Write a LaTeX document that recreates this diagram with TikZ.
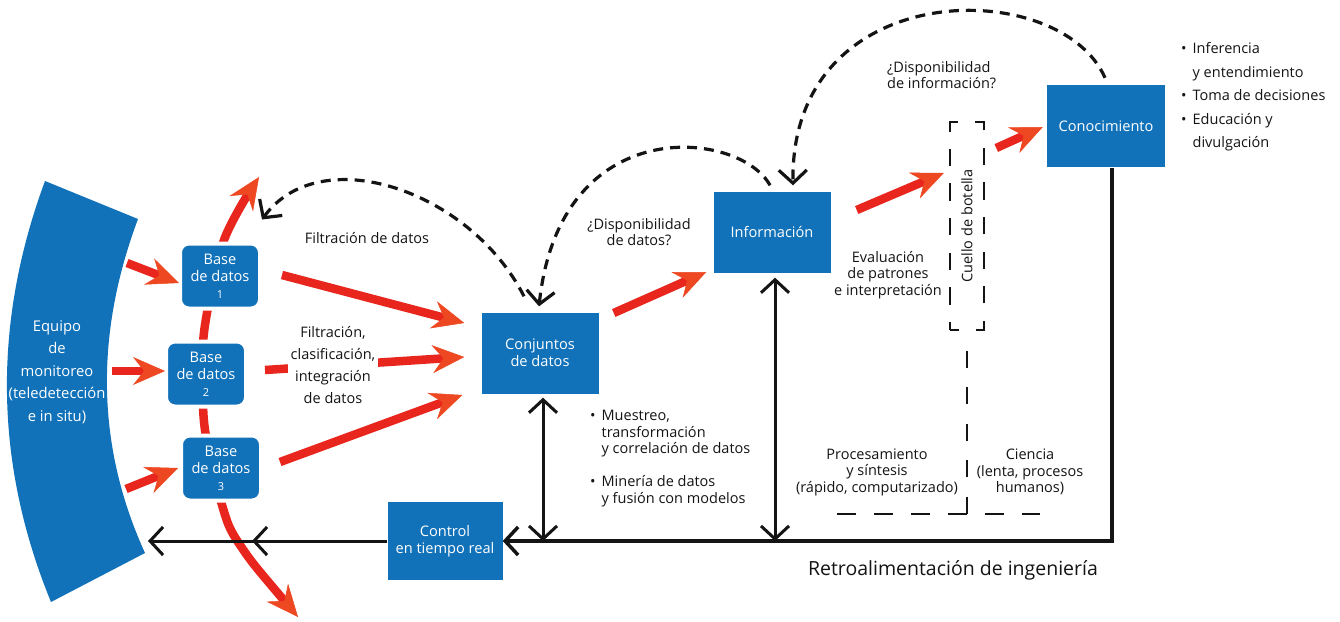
\documentclass[tikz,border=0pt]{standalone}
\usepackage{fontspec}
\setmainfont{Open Sans}
\usetikzlibrary{arrows.meta,calc}
\definecolor{blueC}{RGB}{17,114,186}
\definecolor{redL}{RGB}{232,38,30}
\definecolor{redT}{RGB}{238,72,34}
\definecolor{inkC}{RGB}{20,20,20}
\newcommand\myfs[2]{\fontsize{#1}{#2}\selectfont}
\begin{document}
\begin{tikzpicture}[x=1pt,y=-1pt,
  bluebox/.style={fill=blueC,text=white,align=center,inner sep=0pt,font=\myfs{14.6}{17}},
  basebox/.style={bluebox,rounded corners=9pt,draw=white,line width=4pt,minimum width=80pt,minimum height=65pt},
  sqbox/.style={bluebox,minimum width=117pt,minimum height=81pt},
  txt/.style={align=center,inner sep=0pt,font=\myfs{14.5}{16.5},text=inkC},
  redarrow/.style={draw=redL,line width=8.5pt,-{Stealth[length=32pt,width=28pt,inset=11pt,color=redT,line width=0.5pt]}},
  redcurve/.style={draw=redL,line width=8.5pt,{Stealth[length=32pt,width=28pt,inset=11pt,color=redT,line width=0.5pt]}-{Stealth[length=32pt,width=28pt,inset=11pt,color=redT,line width=0.5pt]}},
  blackarrow/.style={draw=inkC,line width=3pt,-{Straight Barb[length=13pt,width=28pt]}},
  blackdouble/.style={draw=inkC,line width=3pt,{Straight Barb[length=13pt,width=28pt]}-{Straight Barb[length=13pt,width=28pt]}},
  dashcurve/.style={draw=inkC,line width=3.2pt,dash pattern=on 10pt off 7pt,-{Straight Barb[length=13pt,width=28pt]}},
]
\useasboundingbox (0,0) rectangle (1340,621);
\fill[white] (0,0) rectangle (1340,621);

% Equipo de monitoreo
\fill[blueC] (45,181) .. controls (-7.7,323.3) and (-5.7,463.7) .. (51,602) -- (145,553) .. controls (96.7,447) and (94.3,335.7) .. (138,219) -- cycle;
\node[font=\myfs{14.8}{22.5},text=white,align=center,inner sep=0pt] (equipo) at (57,372) {Equipo\\de\\monitoreo\\(teledetección\\e in situ)};
\coordinate (e1) at (127,263);
\coordinate (e2) at (112,371);
\coordinate (e3) at (126,489);
\coordinate (e4) at (148,541);

% big red curve behind base boxes
\draw[redcurve] plot[smooth,tension=0.55] coordinates {(298,617) (240,545) (222,505) (205,430) (203,374) (205,325) (224,240) (259,177)};

% base boxes
\node[basebox] (b1) at (220,276) {Base\\de datos\\{\myfs{11}{14}1}};
\node[basebox] (b2) at (206,374) {Base\\de datos\\{\myfs{11}{14}2}};
\node[basebox] (b3) at (221,468) {Base\\de datos\\{\myfs{11}{14}3}};

% main boxes
\node[sqbox] (conj) at (540,353) {Conjuntos\\de datos};
\node[sqbox] (info) at (772,232) {Información};
\node[sqbox,minimum width=118pt,minimum height=82pt] (conoc) at (1106,126) {Conocimiento};
\node[sqbox,minimum width=115pt,minimum height=78pt] (control) at (445,541) {Control\\en tiempo real};

% bottleneck box
\node[draw=inkC,line width=2.5pt,dash pattern=on 17.3pt off 17.3pt,dash phase=8.6pt,minimum width=34pt,minimum height=208pt,inner sep=0pt] (cuello) at (967,226) {};
\node[txt,rotate=90] (cuellotxt) at (cuello.center) {Cuello de botella};
\coordinate (cb) at (967,514);
\coordinate (hl) at (837,514);
\coordinate (hr) at (1040,514);
\draw[draw=inkC,line width=2.5pt,dash pattern=on 17pt off 19.5pt,dash phase=17pt] (cuello.south) -- (cb);
\draw[draw=inkC,line width=2.5pt,dash pattern=on 18.5pt off 18.5pt] (hl) -- (hr);

% red arrows
\draw[redarrow] (e1) -- ($(b1.west)+(1,7)$);
\draw[redarrow] (e2) -- ($(b2.west)+(1,-3)$);
\draw[redarrow] (e3) -- ($(b3.west)+(-1,0)$);
\draw[redarrow] ($(b1.east)+(20,-1)$) -- ($(conj.west)+(-17,-30)$);
\draw[redarrow] ($(b2.east)+(17,-4)$) -- ($(conj.west)+(-17,4)$);
\draw[redarrow] ($(b3.east)+(17,-6)$) -- ($(conj.west)+(-19,42)$);
\draw[redarrow] ($(conj.east)+(15,-40)$) -- ($(info.west)+(-7,40)$);
\draw[redarrow] ($(info.east)+(26,-22)$) -- ($(cuello.west)+(-5,-53)$);
\draw[redarrow] ($(cuello.east)+(11,-78)$) -- ($(conoc.west)+(-4,1)$);

% label over the middle red arrow
\node[txt,font=\myfs{14.5}{22},fill=white,inner sep=3pt] (filt2) at (333,365) {Filtración,\\clasificación,\\integración\\de datos};

% dashed feedback curves
\draw[dashcurve] ($(conoc.north)+(-1,-7)$) .. controls (1060,-25) and (790,-25) .. ($(info.north)+(21,-6)$);
\draw[dashcurve] ($(info.north)+(-2,-6)$) .. controls (740,130) and (560,110) .. ($(conj.north)+(-1,-6)$);
\draw[dashcurve] ($(conj.north)+(-16,-16)$) .. controls (470,190) and (320,140) .. ($(b1.north east)+(0,-22)$);

% black feedback lines
\coordinate (midc) at (252,541);
\coordinate (fb1) at (543,541);
\coordinate (fb2) at (775,541);
\draw[blackarrow,line width=3.5pt] ($(conoc.south)+(6,1)$) |- (control.east);
\draw[blackarrow] (control.west) -- (e4);
\draw[blackarrow] (control.west) -- (midc);
\draw[blackdouble] ($(conj.south)+(3,4)$) -- (fb1);
\draw[blackdouble] ($(info.south)+(3,5)$) -- (fb2);

% texts
\node[txt] (filt1) at (367,238) {Filtración de datos};
\node[txt] (dispd) at (639,232) {¿Disponibilidad\\de datos?};
\node[txt,align=left,anchor=west] (dispi) at (887,75) {¿Disponibilidad\\de información?};
\node[txt] (eval) at (888,275) {Evaluación\\de patrones\\e interpretación};
\node[txt] (proc) at (877,472) {Procesamiento\\y síntesis\\(rápido, computarizado)};
\node[txt] (cien) at (1030,472) {Ciencia\\(lenta, procesos\\humanos)};
\node[txt,font=\myfs{19.5}{22}] (retro) at (953,570) {Retroalimentación de ingeniería};
\node[txt,anchor=west,font=\myfs{14.5}{23.5}] (inf) at (1181,96) {\begin{tabular}{@{}l@{\hspace{6pt}}l@{}}\textbullet&Inferencia\\&y entendimiento\\\textbullet&Toma de decisiones\\\textbullet&Educación y\\&divulgación\end{tabular}};
\node[txt,anchor=west] (mue) at (590,458.5) {\begin{tabular}{@{}l@{\hspace{6pt}}l@{}}\textbullet&Muestreo,\\&transformación\\&y correlación de datos\\[16.5pt]\textbullet&Minería de datos\\&y fusión con modelos\end{tabular}};
\end{tikzpicture}
\end{document}
